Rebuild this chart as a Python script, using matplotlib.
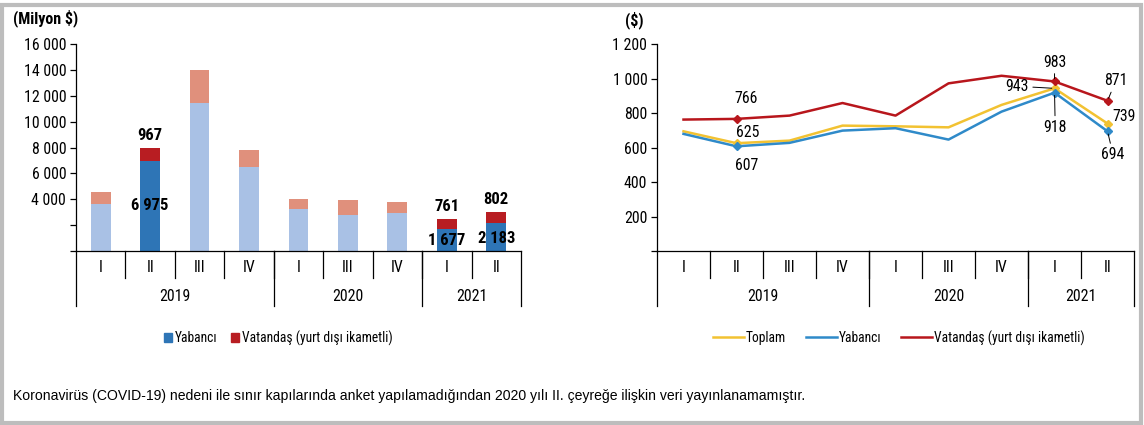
import matplotlib
matplotlib.use("Agg")
import matplotlib.pyplot as plt
from matplotlib import font_manager as fm
from matplotlib.patches import Rectangle
from matplotlib.lines import Line2D


def _w(f):
    w = f.weight
    return fm.weight_dict.get(w, 400) if isinstance(w, str) else int(w)


# prefer a narrow sans (closest to Arial Narrow) when one is installed
_fonts = fm.fontManager.ttflist
_narrow = sorted({f.name for f in _fonts if ('Narrow' in f.name or 'Condensed' in f.name)
                  and 'Mono' not in f.name})
_pref = ['Liberation Sans Narrow', 'Arial Narrow', 'Roboto Condensed', 'Open Sans Condensed']
_narrow.sort(key=lambda n: _pref.index(n) if n in _pref else 99)
NARROW = bool(_narrow)
plt.rcParams['font.family'] = _narrow[:1] + ['Liberation Sans', 'DejaVu Sans']
K = 1.2 if NARROW else 1.0
_has_bold = NARROW and any(f.name == _narrow[0] and _w(f) >= 600 for f in _fonts)
BOLD = dict(fontweight='bold') if (_has_bold or not NARROW) else \
    dict(fontweight='bold', family=['Liberation Sans', 'DejaVu Sans'])
KB = K if (_has_bold or not NARROW) else 1.0

quarters = ['I', 'II', 'III', 'IV', 'I', 'III', 'IV', 'I', 'II']
years = ['2019', '2020', '2021']
year_spans = [4, 3, 2]

# bar chart, million $
yabanci_gelir = [3620, 6975, 11420, 6460, 3230, 2820, 2920, 1677, 2183]
vatandas_gelir = [950, 967, 2560, 1320, 800, 1130, 880, 761, 802]
highlight = [1, 7, 8]

# line chart, $ per person
toplam = [694, 625, 640, 727, 723, 717, 847, 943, 739]
yabanci = [679, 607, 627, 698, 712, 646, 808, 918, 694]
vatandas = [762, 766, 785, 858, 785, 972, 1016, 983, 871]

BLUE_D, BLUE_L = '#2E75B6', '#A9C1E5'
RED_D, RED_L = '#B81D22', '#E0907C'
C_TOP, C_YAB, C_VAT = '#F2C232', '#2F8AC9', '#B8161C'

fig = plt.figure(figsize=(11.44, 4.25), dpi=100)
fig.patches.append(Rectangle((0.002, 0.004), 0.995, 0.985, transform=fig.transFigure,
                             fill=False, edgecolor='#BDBDBD', linewidth=3))


def sep(v):
    return f"{v:,}".replace(",", " ")


def draw_table(ax):
    n = len(quarters)
    tr = ax.get_xaxis_transform()
    for i in range(1, n):
        ax.plot([i - 0.5, i - 0.5], [0, -0.13], transform=tr, color='black', lw=0.9, clip_on=False)
    edges = [-0.5]
    for s in year_spans:
        edges.append(edges[-1] + s)
    for e in edges:
        ax.plot([e, e], [0, -0.268], transform=tr, color='black', lw=0.9, clip_on=False)
    for i, q in enumerate(quarters):
        ax.text(i, -0.082, q, transform=tr, ha='center', va='center', fontsize=9.5 * K)
    for k, y in enumerate(years):
        ax.text((edges[k] + edges[k + 1]) / 2, -0.218, y, transform=tr, ha='center', va='center',
                fontsize=9.5 * K)


def style_axes(ax):
    for s in ['top', 'right']:
        ax.spines[s].set_visible(False)
    ax.spines['left'].set_linewidth(0.9)
    ax.spines['bottom'].set_linewidth(0.9)
    ax.set_xlim(-0.5, len(quarters) - 0.5)
    ax.set_xticks([])
    ax.tick_params(axis='y', length=4, width=0.9, labelsize=9.5 * K, pad=3)


# --- bars ---
ax1 = fig.add_axes([0.0664, 0.4094, 0.389, 0.487])
x = range(len(quarters))
cb = [BLUE_D if i in highlight else BLUE_L for i in x]
cr = [RED_D if i in highlight else RED_L for i in x]
ax1.bar(x, yabanci_gelir, width=0.4, color=cb)
ax1.bar(x, vatandas_gelir, width=0.4, bottom=yabanci_gelir, color=cr)
ax1.set_ylim(0, 16000)
ax1.set_yticks(range(0, 16001, 2000))
ax1.set_yticklabels(['', ''] + [sep(v) for v in range(4000, 16001, 2000)])
style_axes(ax1)
draw_table(ax1)
inner_off = {1: -32, 7: -8, 8: -11.5}  # points below the top of the blue part
for i in highlight:
    tot = yabanci_gelir[i] + vatandas_gelir[i]
    ax1.annotate(sep(vatandas_gelir[i]), (i, tot), xytext=(0, 9.5), textcoords='offset points',
                 ha='center', va='center', fontsize=10 * KB, **BOLD)
    ax1.annotate(sep(yabanci_gelir[i]), (i, yabanci_gelir[i]), xytext=(0, inner_off[i]),
                 textcoords='offset points', ha='center', va='center', fontsize=10 * KB, **BOLD)
fig.text(0.011, 0.957, '(Milyon $)', fontsize=9.6 * KB, va='center', **BOLD)
ax1.legend(handles=[Rectangle((0, 0), 1, 1, color=BLUE_D), Rectangle((0, 0), 1, 1, color=RED_D)],
           labels=['Yabancı', 'Vatandaş (yurt dışı ikametli)'], loc='center',
           bbox_to_anchor=(0.455, -0.42), ncol=2, frameon=False, fontsize=8.1 * K,
           handlelength=0.6, handleheight=0.6, handletextpad=0.2, columnspacing=1.0,
           borderpad=0)

# --- lines ---
ax2 = fig.add_axes([0.5743, 0.4094, 0.417, 0.487])
ax2.plot(x, toplam, color=C_TOP, lw=1.8)
ax2.plot(x, yabanci, color=C_YAB, lw=1.8)
ax2.plot(x, vatandas, color=C_VAT, lw=1.8)
mk = [1, 7, 8]
for s, c in [(toplam, C_TOP), (yabanci, C_YAB), (vatandas, C_VAT)]:
    ax2.plot(mk, [s[i] for i in mk], ls='none', marker='D', ms=4.5, color=c)
ax2.set_ylim(0, 1200)
ax2.set_yticks(range(0, 1201, 200))
ax2.set_yticklabels([''] + [sep(v) for v in range(200, 1201, 200)])
style_axes(ax2)
draw_table(ax2)

ann = dict(fontsize=9.5 * K, ha='center', va='center', textcoords='offset points')
arr = dict(arrowstyle='-', color='black', lw=0.7, shrinkA=1, shrinkB=2)
ax2.annotate(sep(vatandas[1]), (1, vatandas[1]), xytext=(7, 14.5), **ann)
ax2.annotate(sep(toplam[1]), (1, toplam[1]), xytext=(8, 8), **ann)
ax2.annotate(sep(yabanci[1]), (1, yabanci[1]), xytext=(7, -14), **ann)
ax2.annotate(sep(vatandas[7]), (7, vatandas[7]), xytext=(0, 14), arrowprops=arr, **ann)
ax2.annotate(sep(toplam[7]), (7, toplam[7]), xytext=(-27, 1.5), arrowprops=arr, **ann)
ax2.annotate(sep(yabanci[7]), (7, yabanci[7]), xytext=(0.5, -25), arrowprops=arr, **ann)
ax2.annotate(sep(vatandas[8]), (8, vatandas[8]), xytext=(6, 14.5), arrowprops=arr, **ann)
ax2.annotate(sep(toplam[8]), (8, toplam[8]), xytext=(12, 5), **ann)
ax2.annotate(sep(yabanci[8]), (8, yabanci[8]), xytext=(4, -17), arrowprops=arr, **ann)
fig.text(0.546, 0.952, '($)', fontsize=9.6 * KB, va='center', **BOLD)
ax2.legend(handles=[Line2D([], [], color=C_TOP, lw=1.8), Line2D([], [], color=C_YAB, lw=1.8),
                    Line2D([], [], color=C_VAT, lw=1.8)],
           labels=['Toplam', 'Yabancı', 'Vatandaş (yurt dışı ikametli)'], loc='center',
           bbox_to_anchor=(0.507, -0.42), ncol=3, frameon=False, fontsize=8.1 * K,
           handlelength=2.3, handletextpad=0.1, columnspacing=1.5, borderpad=0)

fig.text(0.011, 0.068, 'Koronavirüs (COVID-19) nedeni ile sınır kapılarında anket yapılamadığından '
         '2020 yılı II. çeyreğe ilişkin veri yayınlanamamıştır.', fontsize=10.1,
         family=['Liberation Sans', 'DejaVu Sans'], va='center')

fig.savefig('out.png', dpi=100)
